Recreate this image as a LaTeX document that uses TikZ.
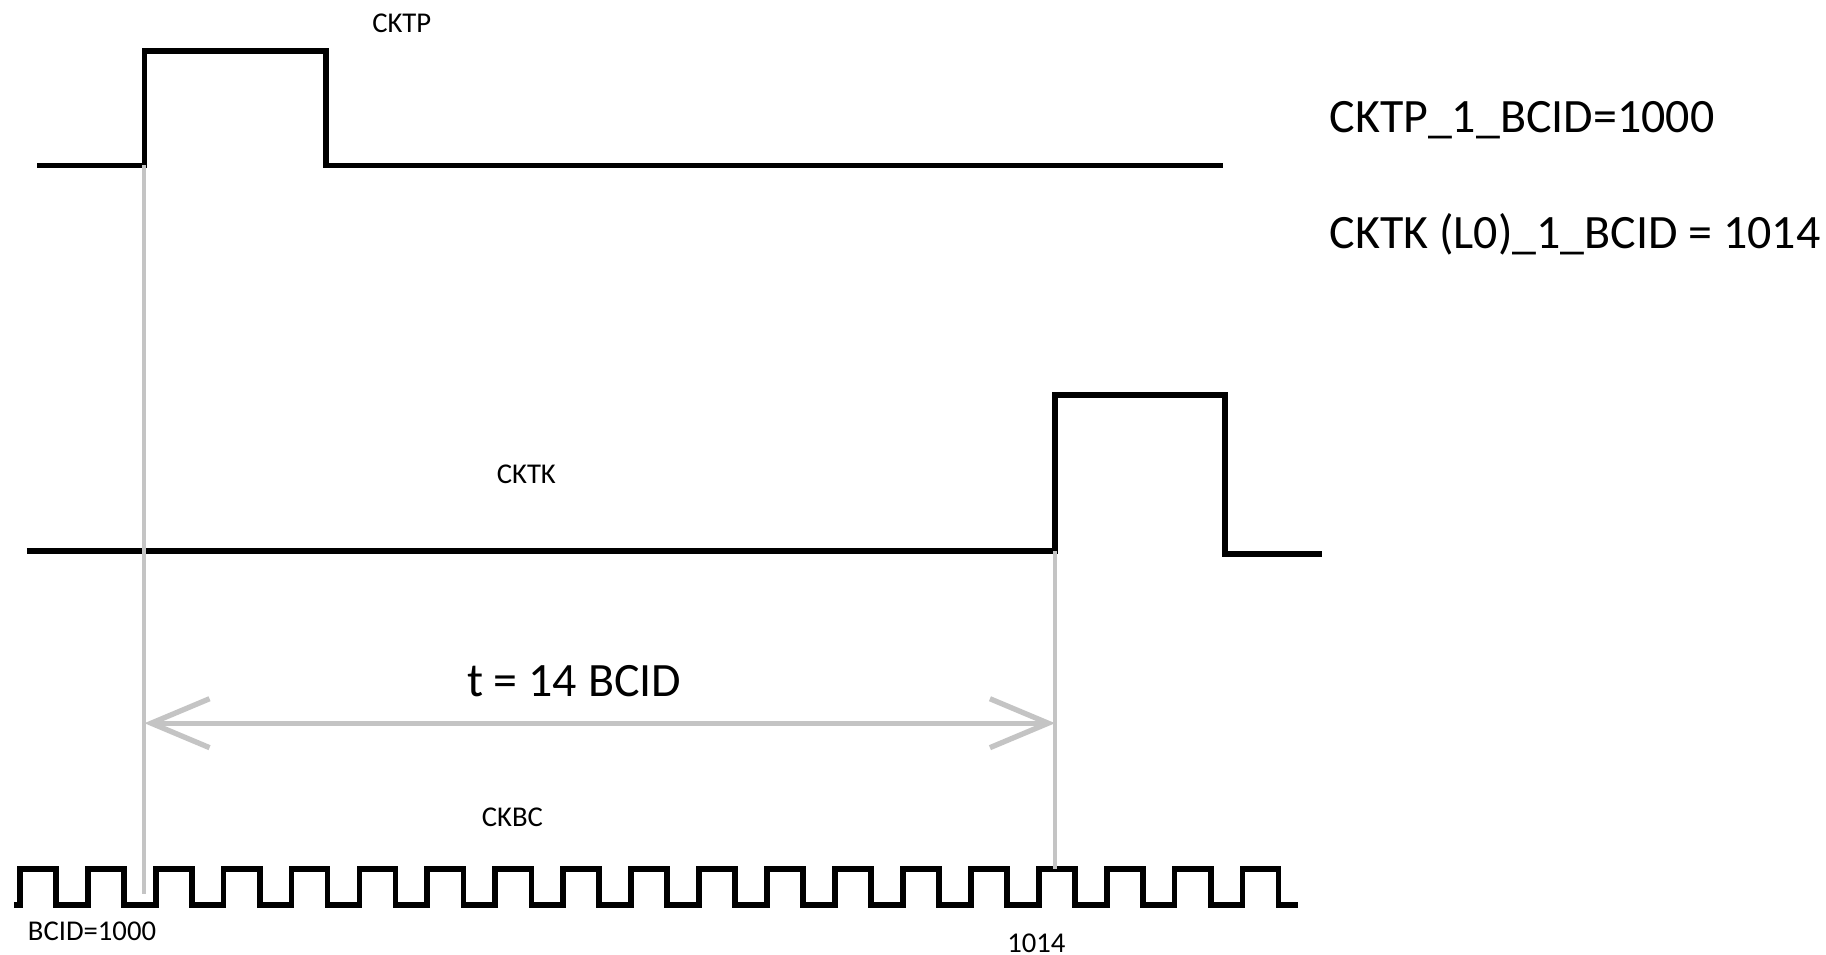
\documentclass[tikz,border=0pt]{standalone}
\usepackage{fontspec}
\setmainfont{Carlito}
\usetikzlibrary{arrows.meta,positioning}
\definecolor{guidegray}{RGB}{196,196,196}
\tikzset{
  wave/.style={line width=1.4pt,black,line join=miter},
  guide/.style={line width=1pt,guidegray},
  span/.style={line width=1.3pt,guidegray,{Straight Barb[length=0.5cm,width=0.42cm,line width=1.3pt]}-{Straight Barb[length=0.5cm,width=0.42cm,line width=1.3pt]}},
  lbl/.style={inner sep=0pt,font=\fontsize{7}{8}\selectfont},
  note/.style={inner sep=0pt,anchor=base west,font=\fontsize{11.7}{14}\selectfont}
}
\begin{document}
\begin{tikzpicture}[x=0.01cm,y=-0.01cm]
\useasboundingbox (0,0) rectangle (1568,820);

% signal CKTP
\coordinate (tpStart) at (32,142);
\coordinate (tpRise) at (124,142);
\coordinate (tpFall) at (280,142);
\coordinate (tpEnd) at (1050,142);
\draw[wave] (tpStart) -- (tpRise) -- (124,44) -- (280,44) -- (tpFall) -- (tpEnd);
\node[lbl] (tpName) at (345,20) {CKTP};

% signal CKTK
\coordinate (tkStart) at (23,473);
\coordinate (tkRise) at (906,473);
\coordinate (tkFall) at (1052,476);
\coordinate (tkEnd) at (1135,476);
\draw[wave] (tkStart) -- (tkRise) -- (906,339) -- (1052,339) -- (tkFall) -- (tkEnd);
\node[lbl] (tkName) at (452,407) {CKTK};

% clock CKBC
\coordinate (bcStart) at (12,777);
\coordinate (bcEnd) at (1115,777);
\draw[wave] (bcStart) \foreach \k in {0,...,18} {
  -- ({17+58.33*\k},777) -- ({17+58.33*\k},746) -- ({48+58.33*\k},746) -- ({48+58.33*\k},777)
} -- (bcEnd);
\node[lbl] (bcName) at (440,702) {CKBC};
\node[lbl] (bcFirst) at (79,800) {BCID=1000};
\node[lbl] (bcLast) at (890,810) {1014};

% guides and time span
\coordinate (bcA) at (124,768);
\coordinate (bcB) at (906,746);
\draw[guide] (tpRise) -- (bcA);
\draw[guide] (tkRise) -- (bcB);
\coordinate (spanL) at (124,621);
\coordinate (spanR) at (906,621);
\draw[span] (spanL) -- (spanR);
\node[inner sep=0pt,anchor=base,font=\fontsize{11.7}{14}\selectfont] (spanText) at (493,598) {t = 14 BCID};

% notes
\node[note] (noteTP) at (1141,114) {CKTP\_1\_BCID=1000};
\node[note] (noteTK) at (1141,213) {CKTK (L0)\_1\_BCID = 1014};
\end{tikzpicture}
\end{document}
